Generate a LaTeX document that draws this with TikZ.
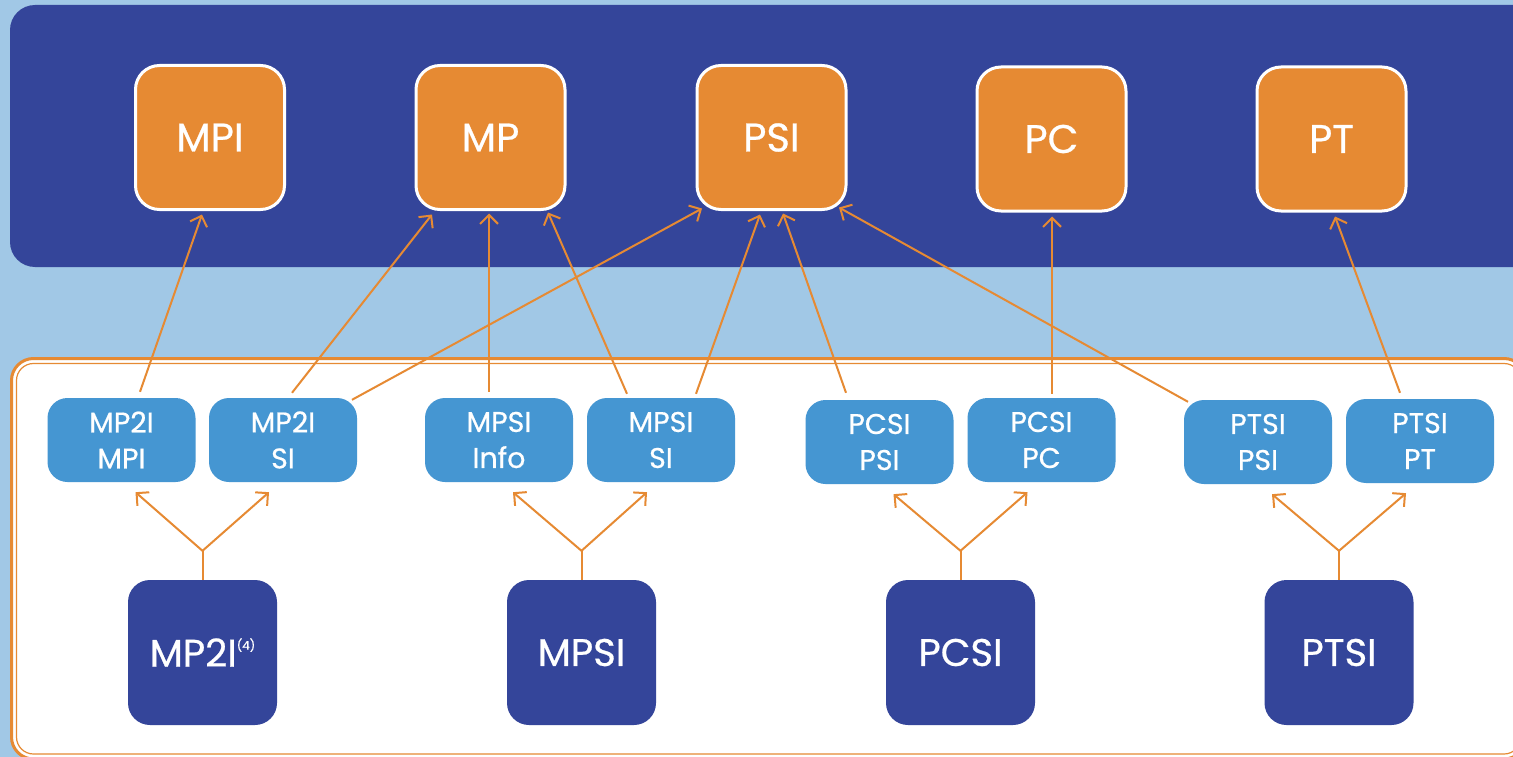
\documentclass[tikz,border=0pt]{standalone}
\usepackage{fontspec}
\setmainfont{Poppins}[UprightFeatures={FakeBold=0.6}]
\usetikzlibrary{arrows.meta,calc}
\definecolor{bgblue}{HTML}{A1C8E6}
\definecolor{darkblue}{HTML}{34459A}
\definecolor{orng}{HTML}{E68A33}
\definecolor{midblue}{HTML}{4596D2}
\begin{document}
\begin{tikzpicture}[x=1pt,y=-1pt,
  topbox/.style={draw=white, line width=3pt, fill=orng, rounded corners=24pt,
    minimum width=149pt, minimum height=144pt, text=white,
    font=\fontsize{40}{40}\selectfont, inner sep=0pt},
  midbox/.style={fill=midblue, rounded corners=20pt, minimum width=148pt,
    minimum height=84pt, text=white, font=\fontsize{28.5}{36}\selectfont,
    align=center, inner sep=0pt},
  botbox/.style={fill=darkblue, rounded corners=22pt, minimum width=149pt,
    minimum height=145pt, text=white, font=\fontsize{38.5}{40}\selectfont,
    inner sep=0pt},
  arr/.style={draw=orng, line width=2pt, -{Straight Barb[length=9pt,width=18pt]}},
  link/.style={draw=orng, line width=2pt}]
\useasboundingbox (0,0) rectangle (1513,757);
\clip (0,0) rectangle (1513,757);
\fill[bgblue] (0,0) rectangle (1513,757);
% top panel
\fill[darkblue, rounded corners=25pt] (10,5) rectangle (1545,267);
% bottom panel
\draw[orng, line width=3pt, fill=white, rounded corners=22pt] (11.5,358.5) rectangle (1526,759);
\draw[orng, line width=1.2pt, rounded corners=17pt] (16.5,363.5) rectangle (1521,754);
% top nodes
\node[topbox] (t1) at (210,137.5) {MPI};
\node[topbox] (t2) at (490.5,137.5) {MP};
\node[topbox] (t3) at (771.5,137.5) {PSI};
\node[topbox] (t4) at (1051.5,139) {PC};
\node[topbox] (t5) at (1331.5,139) {PT};
% middle nodes
\node[midbox] (m1) at (121.5,440) {MP2I\\MPI};
\node[midbox] (m2) at (283,440) {MP2I\\SI};
\node[midbox] (m3) at (499,440) {MPSI\\Info};
\node[midbox] (m4) at (661,440) {MPSI\\SI};
\node[midbox] (m5) at (879.5,442) {PCSI\\PSI};
\node[midbox] (m6) at (1041.5,440) {PCSI\\PC};
\node[midbox] (m7) at (1258,442) {PTSI\\PSI};
\node[midbox] (m8) at (1420,441) {PTSI\\PT};
% bottom nodes
\node[botbox] (b1) at (202.5,652.5) {MP2I\raisebox{17pt}{\fontsize{12}{12}\selectfont(4)}};
\node[botbox] (b2) at (581.5,652.5) {MPSI};
\node[botbox] (b3) at (960.5,652.5) {PCSI};
\node[botbox] (b4) at (1339,652.5) {PTSI};
% forks
\foreach \b/\l/\r in {b1/m1/m2, b2/m3/m4, b3/m5/m6, b4/m7/m8} {
  \coordinate (j\b) at ($(\b.north)+(0,-29)$);
  \draw[link] (\b.north) -- (j\b);
  \draw[arr] (j\b) -- ($(\l.south)+(14,10)$);
  \draw[arr] (j\b) -- ($(\r.south)+(-14,10)$);
}
% upward connectors
\draw[arr] ($(m1.north)+(18.5,-6)$) -- ($(t1.south)+(-8,3.5)$);
\draw[arr] ($(m2.north)+(9,-5)$) -- ($(t2.south)+(-58.5,3.5)$);
\draw[arr] ($(m2.north)+(69,2)$) -- ($(t3.south)+(-69.5,-2.5)$);
\draw[arr] ($(m3.north)+(-10,-6)$) -- ($(t2.south)+(-1.5,2.5)$);
\draw[arr] ($(m4.north)+(-34,-4)$) -- ($(t2.south)+(57.5,1.5)$);
\draw[arr] ($(m4.north)+(35,-4)$) -- ($(t3.south)+(-11.5,3.5)$);
\draw[arr] ($(m5.north)+(-33.5,-7)$) -- ($(t3.south)+(11.5,2.5)$);
\draw[arr] ($(m7.north)+(-70,2)$) -- ($(t3.south)+(67.5,-3.5)$);
\draw[arr] ($(m6.north)+(10.5,-4)$) -- ($(t4.south)+(0.5,4)$);
\draw[arr] ($(m8.north)+(-20,-6)$) -- ($(t5.south)+(3.5,4)$);
\end{tikzpicture}
\end{document}
